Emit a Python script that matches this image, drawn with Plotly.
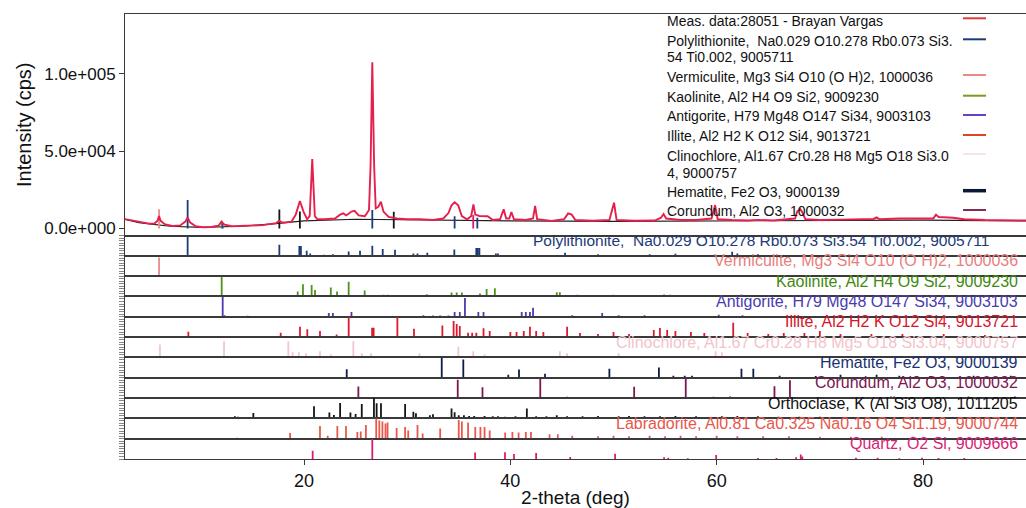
import plotly.graph_objects as go
from plotly.subplots import make_subplots

# ---------------- data ----------------
meas_x = [2.65, 3.5, 4.3, 5.0, 5.5, 5.8, 5.95, 6.1, 6.5, 7.3, 8.0, 8.5, 8.72, 8.95, 9.5, 10.2, 11.0,
          11.7, 12.0, 12.3, 13.0, 14.5, 16.0, 17.3, 17.6, 17.9, 18.8, 19.2, 19.6, 19.95, 20.3, 20.55,
          20.8, 21.05, 21.3, 22.0, 23.0, 23.5, 23.8, 24.1, 24.6, 24.9, 25.3, 25.9, 26.3, 26.45, 26.62,
          26.8, 26.95, 27.2, 27.45, 27.7, 28.2, 29.0, 30.0, 31.2, 32.5, 33.5, 34.0, 34.3, 34.6, 34.95,
          35.3, 35.8, 36.2, 36.42, 36.6, 37.0, 37.8, 38.3, 39.0, 39.35, 39.6, 39.9, 40.1, 40.35, 41.5,
          42.2, 42.4, 42.6, 44.0, 45.2, 45.6, 45.95, 46.3, 48.0, 49.6, 50.05, 50.3, 52.0, 54.0, 54.6,
          54.85, 55.1, 56.5, 58.0, 59.5, 59.85, 60.1, 61.5, 63.0, 64.0, 65.5, 67.6, 67.8, 68.1, 68.3,
          68.6, 70.0, 72.0, 73.5, 75.2, 75.5, 75.8, 77.7, 79.9, 81.0, 81.25, 81.5, 82.9, 84.0, 86.0,
          88.0, 89.98]
meas_y = [6100, 5000, 3900, 3200, 3300, 5000, 8100, 5000, 2800, 1600, 2000, 4500, 7200, 4000, 1500,
          800, 1000, 1800, 4400, 2500, 1500, 1700, 2200, 3500, 5000, 3800, 4500, 9000, 17800, 11000,
          6000, 8000, 45000, 8000, 6000, 6000, 6500, 9000, 9800, 8500, 11000, 11500, 8500, 8000, 12000,
          40000, 107500, 40000, 13000, 14000, 17300, 11000, 7500, 6500, 6000, 6000, 5500, 6500, 10000,
          15000, 17000, 15000, 8000, 6000, 8000, 15600, 9000, 8100, 8000, 5500, 6000, 12400, 6500, 6500,
          10700, 6000, 5500, 6500, 14600, 6000, 5000, 6000, 9800, 9000, 5500, 5000, 5500, 16700, 5500,
          5000, 5200, 7000, 9400, 6500, 5500, 5500, 6500, 15200, 6000, 5500, 5200, 5600, 5200, 6500,
          11000, 12500, 10500, 6000, 5500, 5800, 6000, 6200, 7200, 6000, 6500, 6800, 6500, 9000, 7500,
          7000, 6000, 5500, 5500, 5200]

calc_x = [2.65, 4.0, 5.0, 7.0, 10.0, 14.0, 17.0, 20.0, 25.0, 30.0, 40.0, 50.0, 60.0, 70.0, 80.0, 89.98]
calc_y = [5900, 3800, 3000, 1500, 700, 1500, 3000, 5000, 6000, 5600, 5000, 4700, 5000, 5000, 5400, 4900]

# sticks drawn inside the measured-data panel (position, height in cps)
top_stick_pos = [5.95, 8.72, 12.02, 12.12, 17.61, 19.6, 26.62, 28.7, 34.6, 36.4, 36.8]
top_stick_h = [12500, 18400, 5000, 3500, 12400, 11000, 12000, 10900, 8000, 9000, 7000]
top_stick_phase = ["verm", "poly", "kaol", "anti", "orth", "orth", "poly", "orth", "poly", "quar", "poly"]

phases = ["poly", "verm", "kaol", "anti", "illi", "clin", "hema", "coru", "orth", "labr", "quar"]

phase_labels = {
    "poly": "Polylithionite,\u00a0 Na0.029 O10.278 Rb0.073 Si3.54 Ti0.002, 9005711",
    "verm": "Vermiculite, Mg3 Si4 O10 (O H)2, 1000036",
    "kaol": "Kaolinite, Al2 H4 O9 Si2, 9009230",
    "anti": "Antigorite, H79 Mg48 O147 Si34, 9003103",
    "illi": "Illite, Al2 H2 K O12 Si4, 9013721",
    "clin": "Clinochlore, Al1.67 Cr0.28 H8 Mg5 O18 Si3.04, 9000757",
    "hema": "Hematite, Fe2 O3, 9000139",
    "coru": "Corundum, Al2 O3, 1000032",
    "orth": "Orthoclase, K (Al Si3 O8), 1011205",
    "labr": "Labradorite, Al0.81 Ca0.325 Na0.16 O4 Si1.19, 9000744",
    "quar": "Quartz, O2 Si, 9009666",
}

stick_pos = {
    "poly": [8.72, 17.61, 19.55, 19.7, 20.26, 20.6, 21.95, 22.8, 24.33, 25.43, 26.62, 27.63, 28.82, 30.6,
             31.0, 31.95, 34.57, 36.7, 36.85, 37.0, 38.6, 38.8, 45.3, 48.5, 53.5, 56.0, 61.5, 62.0, 64.0, 72.0],
    "verm": [5.95],
    "kaol": [12.02, 19.39, 19.9, 20.74, 21.07, 22.6, 23.2, 24.33, 25.88, 27.7, 28.1, 31.9, 34.3, 34.8, 35.3,
             37.06, 37.7, 38.5, 44.5, 44.8, 46.5, 48.2, 50.0, 51.5, 54.9, 55.5, 57.5, 62.4, 64.5],
    "anti": [12.12, 12.3, 14.54, 22.4, 22.8, 24.6, 31.57, 32.5, 33.2, 34.0, 34.6, 35.1, 35.6, 36.9, 37.4,
             41.1, 41.5, 41.9, 42.2, 46.0, 48.9, 50.5, 53.0, 60.2, 62.5],
    "illi": [8.79, 17.74, 19.61, 20.32, 21.55, 23.16, 24.33, 26.6, 26.75, 29.05, 30.66, 33.41, 34.5, 34.8,
             35.1, 35.9, 36.3, 36.7, 37.4, 38.0, 40.0, 40.6, 41.3, 41.9, 42.5, 43.2, 45.5, 46.75, 48.5, 50.0,
             51.5, 53.9, 54.5, 55.2, 56.0, 57.5, 58.8, 61.6, 63.0, 65.0, 66.5, 68.5, 70.0, 72.0, 75.0, 78.0,
             82.0, 86.0],
    "clin": [6.04, 12.25, 18.48, 18.9, 19.5, 20.2, 21.55, 22.6, 24.78, 25.6, 26.5, 31.2, 34.96, 36.4, 37.5,
             44.8, 45.5, 50.5, 59.9, 60.5],
    "hema": [24.14, 33.35, 35.44, 39.8, 40.84, 43.36, 49.6, 54.4, 55.8, 56.9, 57.6, 62.4, 63.55, 66.1, 69.6,
             72.0, 75.5, 77.7, 80.7, 84.9, 88.5],
    "coru": [25.27, 34.9, 37.3, 42.9, 45.5, 52.0, 57.0, 59.7, 61.3, 65.6, 67.1, 76.9, 77.2, 80.4, 84.4, 86.4,
             88.9],
    "orth": [13.3, 13.6, 15.09, 19.29, 20.97, 22.46, 22.9, 23.5, 24.5, 25.0, 25.6, 26.78, 27.04, 27.46, 29.8,
             30.6, 30.85, 32.2, 32.5, 34.3, 34.6, 35.0, 35.5, 36.0, 36.5, 37.5, 38.3, 38.8, 39.5, 40.5, 41.6,
             42.5, 43.5, 44.5, 45.5, 47.0, 48.5, 50.5, 51.5, 53.0, 54.5, 56.0, 58.0, 60.5, 62.0, 64.0, 66.0,
             68.0, 70.0],
    "labr": [13.5, 18.65, 21.55, 22.3, 23.23, 24.07, 25.17, 25.5, 26.0, 27.0, 27.3, 27.6, 27.9, 28.1, 28.98,
             29.8, 30.1, 31.0, 31.5, 33.2, 35.0, 35.3, 35.9, 36.6, 37.1, 37.5, 38.0, 39.5, 40.2, 40.8, 41.5,
             42.0, 43.8, 44.6, 46.0, 48.5, 50.0, 51.5, 53.5, 55.0, 56.5, 58.0, 60.0, 62.0, 64.5, 67.0, 70.0,
             73.0, 76.0, 79.0],
    "quar": [20.84, 26.62, 36.58, 39.48, 40.35, 42.5, 45.8, 50.15, 54.9, 55.3, 57.2, 59.95, 64.0, 65.8, 67.7,
             68.15, 68.3, 73.5, 75.6, 77.7, 79.9, 81.5, 84.0],
}

stick_h = {
    "poly": [97, 54, 48, 48, 25, 11, 5, 8, 21, 25, 49, 34, 30, 11, 11, 15, 31, 38, 38, 38, 11, 11, 15, 8, 8,
             10, 20, 12, 8, 6],
    "verm": [92],
    "kaol": [97, 24, 60, 56, 32, 44, 24, 73, 29, 8, 8, 11, 19, 19, 19, 15, 37, 40, 21, 21, 8, 6, 8, 6, 10, 8,
             6, 10, 6],
    "anti": [97, 8, 5, 19, 19, 23, 8, 6, 6, 6, 23, 23, 92, 23, 23, 23, 23, 23, 44, 8, 18, 8, 8, 10, 8],
    "illi": [26, 21, 51, 38, 30, 13, 100, 46, 46, 100, 41, 57, 79, 64, 54, 21, 21, 21, 43, 30, 25, 25, 30, 51,
             30, 25, 51, 20, 15, 25, 15, 35, 45, 35, 30, 25, 20, 70, 20, 15, 20, 20, 30, 15, 15, 15, 15, 10],
    "clin": [63, 80, 80, 25, 25, 20, 30, 15, 80, 20, 20, 20, 54, 30, 15, 30, 20, 20, 30, 25],
    "hema": [42, 100, 90, 15, 40, 20, 44, 50, 10, 10, 10, 44, 44, 10, 8, 15, 15, 10, 8, 10, 10],
    "coru": [57, 90, 53, 100, 6, 55, 100, 6, 8, 58, 88, 8, 8, 5, 8, 5, 8],
    "orth": [11, 8, 27, 5, 60, 29, 16, 76, 29, 22, 71, 100, 75, 75, 71, 33, 25, 15, 20, 48, 30, 15, 15, 12, 12,
             12, 10, 10, 8, 10, 48, 10, 10, 15, 10, 10, 12, 10, 12, 10, 10, 12, 10, 10, 12, 10, 8, 8, 8],
    "labr": [5, 28, 62, 15, 62, 62, 33, 35, 67, 100, 90, 85, 75, 80, 53, 58, 40, 67, 25, 50, 92, 85, 80, 58,
             58, 58, 40, 30, 33, 30, 33, 33, 22, 22, 15, 12, 15, 12, 15, 12, 15, 12, 15, 12, 12, 12, 10, 10,
             10, 10],
    "quar": [41, 100, 32, 33, 25, 30, 10, 26, 8, 6, 4, 20, 5, 5, 8, 22, 12, 6, 6, 4, 6, 5, 5],
}

y_tick_vals = [0, 50000, 100000]
y_tick_text = ["0.0e+000", "5.0e+004", "1.0e+005"]
x_tick_vals = [20, 40, 60, 80]

legend_lines = [
    ("Meas. data:28051 - Brayan Vargas", 20.7),
    ("Polylithionite,\u00a0 Na0.029 O10.278 Rb0.073 Si3.", 41.0),
    ("54 Ti0.002, 9005711", 57.3),
    ("Vermiculite, Mg3 Si4 O10 (O H)2, 1000036", 77.3),
    ("Kaolinite, Al2 H4 O9 Si2, 9009230", 96.7),
    ("Antigorite, H79 Mg48 O147 Si34, 9003103", 116.0),
    ("Illite, Al2 H2 K O12 Si4, 9013721", 136.0),
    ("Clinochlore, Al1.67 Cr0.28 H8 Mg5 O18 Si3.0", 156.0),
    ("4, 9000757", 172.7),
    ("Hematite, Fe2 O3, 9000139", 192.3),
    ("Corundum, Al2 O3, 1000032", 211.3),
]
legend_swatches = [
    ("meas", 18.3), ("poly", 39.3), ("verm", 75.0), ("kaol", 95.7), ("anti", 115.0),
    ("illi", 135.0), ("clin", 154.0), ("hema", 190.7), ("coru", 210.0),
]

# ---------------- style ----------------
stick_color = {
    "poly": "#1d3b78", "verm": "#ec8a8a", "kaol": "#4f9418", "anti": "#4a3cae", "illi": "#dc1a2e",
    "clin": "#f3c6cc", "hema": "#0d1d4a", "coru": "#7c1650", "orth": "#151515", "labr": "#e8584c",
    "quar": "#dc1c70",
}
label_color = {
    "poly": "#1d3b78", "verm": "#e88080", "kaol": "#3f8a10", "anti": "#4a3cae", "illi": "#d8142a",
    "clin": "#f2c4ca", "hema": "#1a3272", "coru": "#7c1650", "orth": "#111111", "labr": "#e8584c",
    "quar": "#d81f78",
}
label_size = {ph: 16 for ph in phases}
label_size["poly"] = 15.5
swatch_color = dict(stick_color)
swatch_color.update({"meas": "#e23a3a", "poly": "#1d3b78", "kaol": "#7a9a20", "anti": "#6a40c8",
                     "illi": "#e04428", "clin": "#f4e4e4", "hema": "#0a1838", "coru": "#803058"})
MEAS_COLOR = "#e6204c"
FRAME = "#3a3a3a"
FONT = "Liberation Sans, Arial, Helvetica, sans-serif"

W, H = 1026, 508
PLOT_LEFT, PLOT_TOP, TOP_BOTTOM, PLOT_BOTTOM = 125, 14, 235.5, 459   # pixels
ML, MT = PLOT_LEFT, PLOT_TOP
MB = H - PLOT_BOTTOM
strip_h = (PLOT_BOTTOM - TOP_BOTTOM) / len(phases)


def py(y_px):
    return (PLOT_BOTTOM - y_px) / (PLOT_BOTTOM - PLOT_TOP)


def px(x_px):
    return (x_px - PLOT_LEFT) / (W - PLOT_LEFT)


def sticks(pos, h):
    xs, ys = [], []
    for p, v in zip(pos, h):
        xs += [p, p, None]
        ys += [0, v, None]
    return xs, ys


fig = make_subplots(rows=1 + len(phases), cols=1, shared_xaxes=True, vertical_spacing=0,
                    row_heights=[TOP_BOTTOM - PLOT_TOP] + [strip_h] * len(phases))

# measured panel
fig.add_trace(go.Scatter(x=calc_x, y=calc_y, mode="lines", line=dict(color="#202020", width=1.2),
                         hoverinfo="skip"), row=1, col=1)
for ph in phases:
    sel = [(p, v) for p, v, q in zip(top_stick_pos, top_stick_h, top_stick_phase) if q == ph]
    if sel:
        xs, ys = sticks([s[0] for s in sel], [s[1] for s in sel])
        fig.add_trace(go.Scatter(x=xs, y=ys, mode="lines", line=dict(color=stick_color[ph], width=1.8),
                                 hoverinfo="skip"), row=1, col=1)
fig.add_trace(go.Scatter(x=meas_x, y=meas_y, mode="lines", line=dict(color=MEAS_COLOR, width=1.9),
                         hoverinfo="skip"), row=1, col=1)

# stick strips
for i, ph in enumerate(phases):
    xs, ys = sticks(stick_pos[ph], stick_h[ph])
    fig.add_trace(go.Scatter(x=xs, y=ys, mode="lines", line=dict(color=stick_color[ph], width=1.8),
                             hoverinfo="skip"), row=i + 2, col=1)

fig.update_traces(showlegend=False)

nrows = 1 + len(phases)
for r in range(1, nrows + 1):
    fig.update_xaxes(range=[2.65, 89.98], showline=True, linecolor=FRAME, linewidth=1, mirror=True,
                     showgrid=False, zeroline=False, ticks="", showticklabels=False, row=r, col=1)
fig.update_xaxes(ticks="outside", tickvals=x_tick_vals, ticklen=5, tickcolor=FRAME, showticklabels=True,
                 tickfont=dict(size=18, color="#111"),
                 title=dict(text="2-theta (deg)", font=dict(size=19, color="#111"), standoff=4),
                 row=nrows, col=1)

fig.update_yaxes(range=[-4500, 138800], tickvals=y_tick_vals, ticktext=y_tick_text, ticks="outside",
                 ticklen=5, tickcolor=FRAME, showline=True, linecolor=FRAME, showgrid=False, zeroline=False,
                 tickfont=dict(size=17, color="#111"),
                 title=dict(text="Intensity (cps)", font=dict(size=20, color="#111"), standoff=7),
                 row=1, col=1)
for r in range(2, nrows + 1):
    fig.update_yaxes(range=[0, 100], showticklabels=False, ticks="outside", ticklen=5, dtick=12.5,
                     tickcolor="#888", tickwidth=1, showline=True, linecolor=FRAME, showgrid=False,
                     zeroline=False, row=r, col=1)

annotations = []
for i, ph in enumerate(phases):
    yref = f"y{i + 2} domain"
    xr = px(991) if ph == "poly" else px(1020)
    annotations.append(dict(text=phase_labels[ph], xref="paper", x=xr, xanchor="right", yref=yref, y=1,
                            yshift=-5, yanchor="middle", showarrow=False,
                            font=dict(size=label_size[ph], color=label_color[ph], family=FONT)))
for txt, ypx in legend_lines:
    annotations.append(dict(text=txt, xref="paper", x=px(665), xanchor="left", yref="paper", y=py(ypx),
                            yanchor="middle", showarrow=False, font=dict(size=14, color="#111", family=FONT)))

shapes = []
for key, ypx in legend_swatches:
    shapes.append(dict(type="line", xref="paper", yref="paper", x0=px(963), x1=px(986), y0=py(ypx), y1=py(ypx),
                       line=dict(color=swatch_color[key], width=3.5 if key == "hema" else 2)))

fig.update_layout(width=W, height=H, margin=dict(l=ML, r=0, t=MT, b=MB, autoexpand=False),
                  paper_bgcolor="white", plot_bgcolor="white", font=dict(family=FONT, color="#111"),
                  annotations=annotations, shapes=shapes, showlegend=False)

fig.write_html("out.html", config={"displayModeBar": False},
               post_script="document.body.style.margin='0';"
                           "document.documentElement.style.overflow='hidden';"
                           "document.body.style.overflow='hidden';")
